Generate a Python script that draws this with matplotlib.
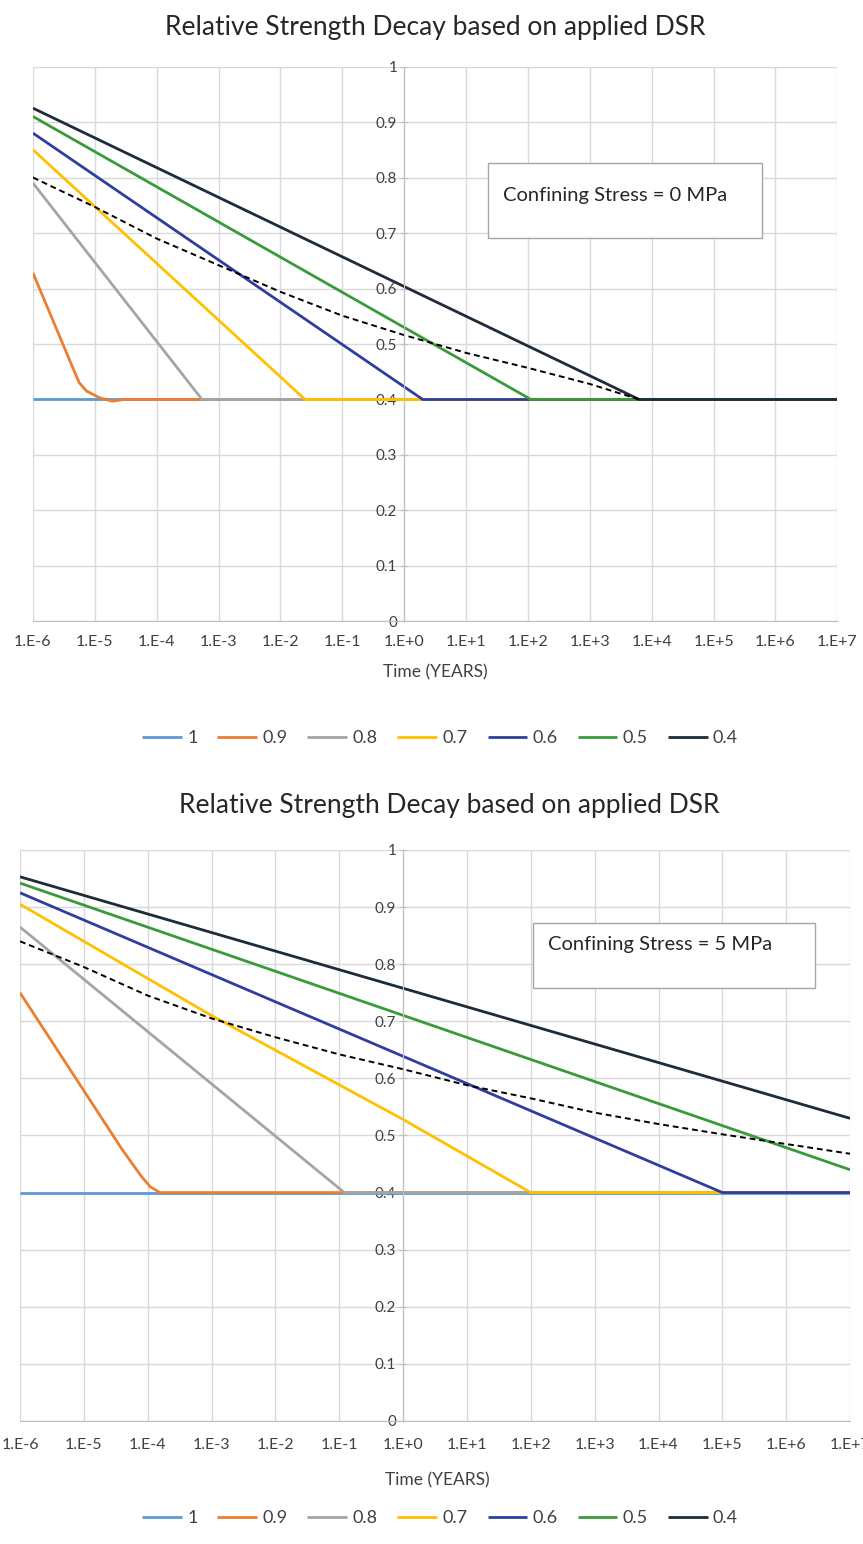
import numpy as np
import matplotlib
matplotlib.use('Agg')
import matplotlib.pyplot as plt
from matplotlib.patches import Rectangle

plt.rcParams['font.family'] = ['Lato', 'DejaVu Sans']

# series names (DSR) and Excel-like colours
series_names = ['1', '0.9', '0.8', '0.7', '0.6', '0.5', '0.4']
series_colors = ['#5B9BD5', '#ED7D31', '#A5A5A5', '#FFC000', '#2F3E9E', '#3A9A3A', '#1E2B3A']

xtick_vals = [1e-6, 1e-5, 1e-4, 1e-3, 1e-2, 1e-1, 1e0, 1e1, 1e2, 1e3, 1e4, 1e5, 1e6, 1e7]
xtick_labels = ['1.E-6', '1.E-5', '1.E-4', '1.E-3', '1.E-2', '1.E-1', '1.E+0',
                '1.E+1', '1.E+2', '1.E+3', '1.E+4', '1.E+5', '1.E+6', '1.E+7']
ytick_vals = [0, 0.1, 0.2, 0.3, 0.4, 0.5, 0.6, 0.7, 0.8, 0.9, 1]

# --- confining stress = 0 MPa ---
top_t = [
    [1e-6, 1e7],
    [1e-6, 4.3e-6, 5.6e-6, 7.4e-6, 1.2e-5, 1.9e-5, 3e-5, 1e7],
    [1e-6, 5.4e-4, 1e7],
    [1e-6, 2.5e-2, 1e7],
    [1e-6, 2.0, 1e7],
    [1e-6, 112, 1e7],
    [1e-6, 6300, 1e7],
]
top_v = [
    [0.4, 0.4],
    [0.628, 0.46, 0.43, 0.415, 0.403, 0.397, 0.4, 0.4],
    [0.79, 0.4, 0.4],
    [0.85, 0.4, 0.4],
    [0.88, 0.4, 0.4],
    [0.91, 0.4, 0.4],
    [0.925, 0.4, 0.4],
]
top_dash_t = [1e-6, 1e-5, 1e-4, 1e-3, 1e-2, 1e-1, 1e0, 1e1, 1e2, 1e3, 6300]
top_dash_v = [0.80, 0.747, 0.69, 0.642, 0.594, 0.551, 0.516, 0.484, 0.457, 0.428, 0.40]

# --- confining stress = 5 MPa ---
bot_t = [
    [1e-6, 1e7],
    [1e-6, 4e-5, 8e-5, 1.1e-4, 1.55e-4, 1e7],
    [1e-6, 0.12, 1e7],
    [1e-6, 1e-3, 1e0, 100, 1e7],
    [1e-6, 1e5, 1e7],
    [1e-6, 1e7],
    [1e-6, 1e7],
]
bot_v = [
    [0.4, 0.4],
    [0.75, 0.475, 0.428, 0.41, 0.4, 0.4],
    [0.865, 0.4, 0.4],
    [0.905, 0.71, 0.528, 0.4, 0.4],
    [0.925, 0.4, 0.4],
    [0.942, 0.44],
    [0.953, 0.53],
]
bot_dash_t = [1e-6, 1e-5, 1e-4, 1e-3, 1e-2, 1e-1, 1e0, 1e1, 1e2, 1e3, 1e4, 1e5, 1e6, 1e7]
bot_dash_v = [0.84, 0.795, 0.745, 0.705, 0.672, 0.642, 0.616, 0.588, 0.565, 0.54, 0.52, 0.502, 0.485, 0.468]

title = 'Relative Strength Decay based on applied DSR'
grid_c = '#d9d9d9'
label_c = '#404040'


def draw_panel(ax, ts, vs, dash_t, dash_v, box_text, box, text_xy, pad):
    lines = []
    for t, v, name, c in zip(ts, vs, series_names, series_colors):
        ln, = ax.plot(t, v, color=c, lw=2.0, label=name, solid_capstyle='butt')
        lines.append(ln)
    ax.plot(dash_t, dash_v, color='black', lw=1.4, ls=(0, (3, 2)))

    ax.set_xscale('log')
    ax.set_xlim(1e-6, 1e7)
    ax.set_ylim(0, 1)
    ax.set_xticks(xtick_vals)
    ax.set_xticklabels(xtick_labels)
    ax.xaxis.set_minor_locator(matplotlib.ticker.NullLocator())
    ax.set_yticks(ytick_vals)
    ax.set_yticklabels(['%g' % v for v in ytick_vals])
    ax.grid(True, color=grid_c, lw=1.0, zorder=0)
    ax.set_axisbelow(True)

    for s in ['top', 'right']:
        ax.spines[s].set_visible(False)
    ax.spines['left'].set_position(('data', 1.0))
    ax.spines['left'].set_color('#bfbfbf')
    ax.spines['bottom'].set_color('#bfbfbf')
    ax.tick_params(axis='y', direction='inout', length=6, color='#bfbfbf',
                   labelsize=11, labelcolor=label_c, pad=2)
    ax.tick_params(axis='x', length=0, labelsize=11.5, labelcolor=label_c, pad=pad)

    x0, y0, x1, y1 = box
    ax.add_patch(Rectangle((x0, y0), x1 - x0, y1 - y0, transform=ax.transAxes,
                           facecolor='white', edgecolor='#a6a6a6', lw=1.0, zorder=5))
    ax.text(text_xy[0], text_xy[1], box_text, transform=ax.transAxes,
            fontsize=14.5, color='#262626', va='center', ha='left', zorder=6)
    return lines


fig = plt.figure(figsize=(8.63, 15.44), dpi=100)

ax1 = fig.add_axes([0.0382, 0.5975, 0.932, 0.3594])
lines1 = draw_panel(ax1, top_t, top_v, top_dash_t, top_dash_v,
                    'Confining Stress = 0 MPa', (0.566, 0.691, 0.907, 0.826), (0.585, 0.768), 10)
fig.text(435 / 863, 1 - 28 / 1544, title, ha='center', va='center', fontsize=19, color='#262626')
fig.text(435 / 863, 1 - 672 / 1544, 'Time (YEARS)', ha='center', va='center', fontsize=12.5, color=label_c)
fig.legend(handles=lines1, loc='center', bbox_to_anchor=(440 / 863, 1 - 738 / 1544), ncol=7,
           frameon=False, fontsize=13, handlelength=2.2, handletextpad=0.3, columnspacing=1.1,
           labelcolor=label_c)

ax2 = fig.add_axes([0.0232, 0.0797, 0.9618, 0.3698])
lines2 = draw_panel(ax2, bot_t, bot_v, bot_dash_t, bot_dash_v,
                    'Confining Stress = 5 MPa', (0.618, 0.758, 0.958, 0.872), (0.636, 0.834), 12)
fig.text(449 / 863, 1 - 806 / 1544, title, ha='center', va='center', fontsize=19, color='#262626')
fig.text(437 / 863, 1 - 1480 / 1544, 'Time (YEARS)', ha='center', va='center', fontsize=12.5, color=label_c)
fig.legend(handles=lines2, loc='center', bbox_to_anchor=(440 / 863, 1 - 1518 / 1544), ncol=7,
           frameon=False, fontsize=13, handlelength=2.2, handletextpad=0.3, columnspacing=1.1,
           labelcolor=label_c)

fig.savefig('out.png', dpi=100)
